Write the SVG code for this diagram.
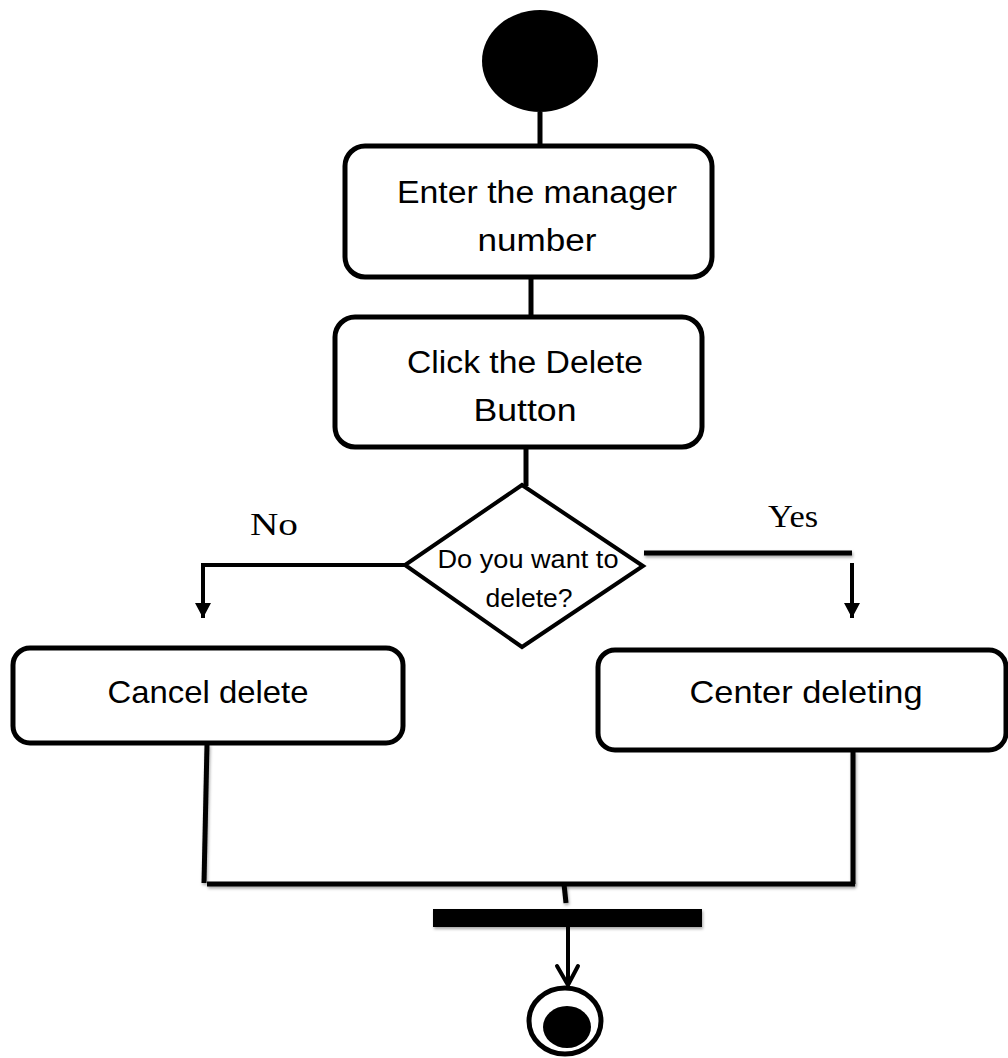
<svg xmlns="http://www.w3.org/2000/svg" width="1008" height="1058" viewBox="0 0 1008 1058">
  <defs>
    <style>
      .box { fill: #ffffff; stroke: #000000; stroke-width: 5; }
      .dia { fill: #ffffff; stroke: #000000; stroke-width: 4; stroke-linejoin: miter; }
      .ln { fill: none; stroke: #000000; stroke-width: 5; }
      .ln4 { fill: none; stroke: #000000; stroke-width: 4; }
      .txt { font-family: "Liberation Sans", Arial, sans-serif; fill: #000000; text-anchor: middle; }
      .lbl { font-family: "Liberation Serif", "Times New Roman", serif; fill: #000000; font-size: 32px; }
    </style>
    <filter id="shadow" filterUnits="userSpaceOnUse" x="0" y="0" width="1008" height="1058">
      <feDropShadow dx="1" dy="2" stdDeviation="1.5" flood-color="#000000" flood-opacity="0.35"/>
    </filter>
    <marker id="tri" markerWidth="16" markerHeight="16" refX="15" refY="8" orient="auto" markerUnits="userSpaceOnUse">
      <path d="M0,0 L15,8 L0,16 Z" fill="#000000"/>
    </marker>
  </defs>
  <rect x="0" y="0" width="1008" height="1058" fill="#ffffff"/>

  <g id="connectors">
    <line class="ln" x1="540" y1="112" x2="540" y2="147"/>
    <line class="ln" x1="531" y1="277" x2="531" y2="318"/>
    <line class="ln" x1="526" y1="446" x2="526" y2="486"/>
    <polyline class="ln4" points="405,565 203,565 203,618" marker-end="url(#tri)"/>
    <line class="ln" x1="644" y1="553" x2="852" y2="553" filter="url(#shadow)"/>
    <line class="ln4" x1="852" y1="563" x2="852" y2="618" marker-end="url(#tri)"/>
    <line class="ln" x1="207" y1="744" x2="204" y2="883" filter="url(#shadow)"/>
    <line class="ln" x1="853" y1="751" x2="853" y2="884" filter="url(#shadow)"/>
    <line class="ln" x1="207" y1="884" x2="855" y2="884" filter="url(#shadow)"/>
    <line class="ln" x1="564" y1="884" x2="566" y2="903" filter="url(#shadow)"/>
    <line class="ln4" x1="568" y1="927" x2="568" y2="983"/>
    <polyline class="ln4" points="557,966 568,985 578,966" stroke-linecap="round" stroke-linejoin="round"/>
    <text class="lbl" x="250" y="535" textLength="48" lengthAdjust="spacingAndGlyphs">No</text>
    <text class="lbl" x="768" y="527" textLength="50" lengthAdjust="spacingAndGlyphs">Yes</text>
  </g>

  <g id="start">
    <ellipse cx="540" cy="61" rx="58" ry="51" fill="#000000"/>
  </g>

  <g id="enter-number">
    <rect class="box" x="345" y="146" width="367" height="131" rx="20" ry="20"/>
    <text class="txt" x="537" y="203" font-size="31" textLength="280" lengthAdjust="spacingAndGlyphs">Enter the manager</text>
    <text class="txt" x="537" y="251" font-size="31" textLength="119" lengthAdjust="spacingAndGlyphs">number</text>
  </g>

  <g id="click-delete">
    <rect class="box" x="335" y="317" width="367" height="130" rx="20" ry="20"/>
    <text class="txt" x="525" y="373" font-size="31" textLength="236" lengthAdjust="spacingAndGlyphs">Click the Delete</text>
    <text class="txt" x="525" y="421" font-size="31" textLength="103" lengthAdjust="spacingAndGlyphs">Button</text>
  </g>

  <g id="decision">
    <polygon class="dia" points="522,485 643,566 522,647 405,565"/>
    <text class="txt" x="528" y="568" font-size="26" textLength="181" lengthAdjust="spacingAndGlyphs">Do you want to</text>
    <text class="txt" x="529" y="607" font-size="26" textLength="87" lengthAdjust="spacingAndGlyphs">delete?</text>
  </g>

  <g id="cancel-delete">
    <rect class="box" x="13" y="648" width="390" height="95" rx="17" ry="17"/>
    <text class="txt" x="208" y="703" font-size="32" textLength="201" lengthAdjust="spacingAndGlyphs">Cancel delete</text>
  </g>

  <g id="center-deleting">
    <rect class="box" x="598" y="650" width="408" height="100" rx="17" ry="17"/>
    <text class="txt" x="806" y="703" font-size="32" textLength="233" lengthAdjust="spacingAndGlyphs">Center deleting</text>
  </g>

  <g id="join-bar">
    <rect x="433" y="909" width="269" height="18" fill="#000000" filter="url(#shadow)"/>
  </g>

  <g id="end">
    <ellipse cx="565" cy="1021" rx="36" ry="33" fill="#ffffff" stroke="#000000" stroke-width="5"/>
    <ellipse cx="567" cy="1027" rx="24" ry="21" fill="#000000"/>
  </g>
</svg>
